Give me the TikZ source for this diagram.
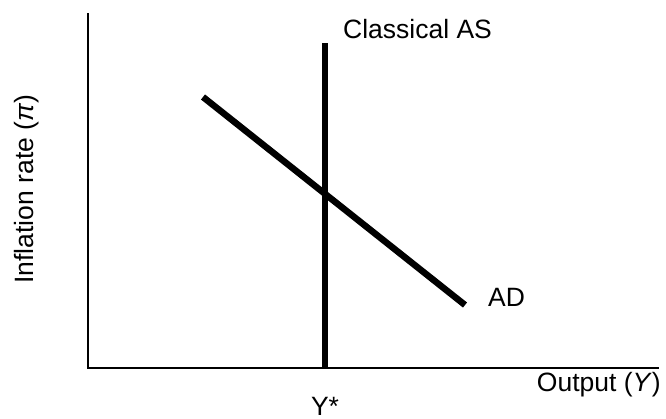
\documentclass[tikz,border=0pt]{standalone}
\usepackage{fontspec}
\setmainfont{Liberation Sans}
\begin{document}
\begin{tikzpicture}[x=1pt,y=-1pt,
  axis/.style={line width=2.4pt,line join=miter},
  curve/.style={line width=6.5pt},
  lbl/.style={inner sep=0pt,font=\fontsize{26.5}{30}\selectfont}]
\useasboundingbox (0,0) rectangle (666,418);
\coordinate (ytop) at (88,13);
\coordinate (O) at (88,368);
\coordinate (xend) at (659,368);
\coordinate (AStop) at (325,43);
\coordinate (ASbot) at (325,368);
\coordinate (ADl) at (203,97);
\coordinate (ADr) at (465,305);
\draw[axis] (ytop) -- (O) -- (xend);
\draw[curve] (AStop) -- (ASbot);
\draw[curve] (ADl) -- (ADr);
\node[lbl,anchor=west] (aslabel) at (343,29) {Classical AS};
\node[lbl,anchor=west] (adlabel) at (488,297) {AD};
\node[lbl,anchor=base] (ystar) at (325,415) {Y*};
\node[lbl,anchor=east] (xlabel) at (661,385) {Output (\textit{Y})};
\node[lbl,rotate=90] (ylabel) at (27,189) {Inflation rate (\textit{π})};
\end{tikzpicture}
\end{document}
